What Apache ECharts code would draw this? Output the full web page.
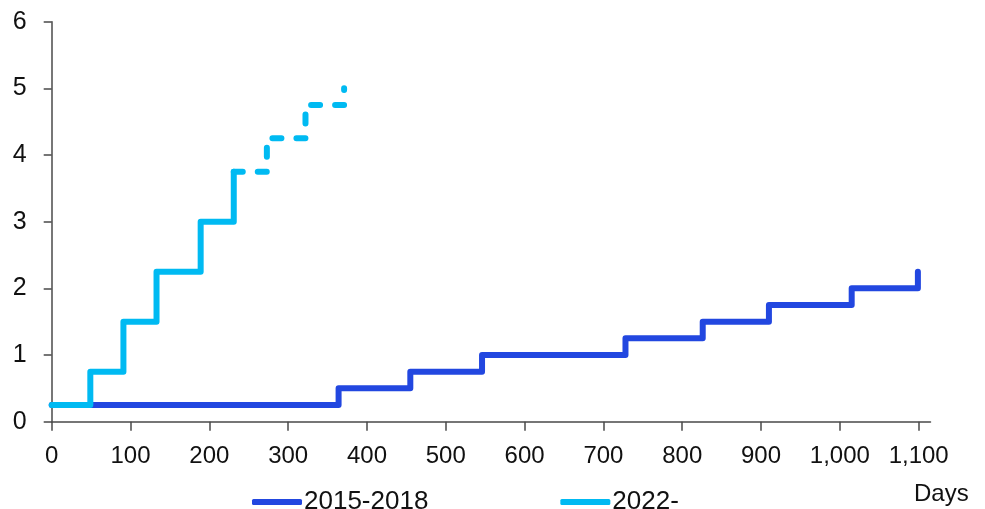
<!DOCTYPE html>
<html>
<head>
<meta charset="utf-8">
<script src="https://cdn.jsdelivr.net/npm/echarts@6/dist/echarts.min.js"></script>
<style>
  html, body { margin: 0; padding: 0; background: #ffffff; }
  #chart { width: 985px; height: 509px; }
</style>
</head>
<body>
<div id="chart"></div>
<script>
// ---- data ----
const seriesNames = ['2015-2018', '2022-'];
const days2015 = [0, 364, 455, 546, 728, 826, 910, 1015, 1099];
const rates2015 = [0.25, 0.5, 0.75, 1.0, 1.25, 1.5, 1.75, 2.0, 2.25];
const days2022 = [0, 49, 91, 133, 189, 231];
const rates2022 = [0.25, 0.75, 1.5, 2.25, 3.0, 3.75];
const days2022Exp = [231, 273, 322, 371];
const rates2022Exp = [3.75, 4.25, 4.75, 5.0];
const xTicks = [0, 100, 200, 300, 400, 500, 600, 700, 800, 900, 1000, 1100];
const yTicks = [0, 1, 2, 3, 4, 5, 6];
const xAxisName = 'Days';

const zip = (xs, ys) => xs.map((x, i) => [x, ys[i]]);
const FONT = 'Liberation Sans, Arial, sans-serif';
const DARK = '#2247E0';
const LIGHT = '#00BAF2';
const AXIS = '#4a4a4a';
const TEXT = '#111111';

const chart = echarts.init(document.getElementById('chart'), null, { renderer: 'canvas' });
chart.setOption({
  animation: false,
  backgroundColor: '#ffffff',
  textStyle: { fontFamily: FONT },
  grid: { left: 51.7, top: 21.7, right: 54.5, bottom: 87.3, containLabel: false },
  xAxis: {
    type: 'value',
    min: 0, max: 1115, interval: 100,
    axisLine: { show: true, lineStyle: { color: AXIS, width: 1.5 } },
    axisTick: { show: true, length: 9, customValues: xTicks, lineStyle: { color: AXIS, width: 1.5 } },
    axisLabel: {
      customValues: xTicks,
      margin: 23, fontSize: 24, color: TEXT, fontFamily: FONT,
      formatter: v => Number(v).toLocaleString('en-US')
    },
    splitLine: { show: false }
  },
  yAxis: {
    type: 'value',
    min: 0, max: 6, interval: 1,
    axisLine: { show: true, lineStyle: { color: AXIS, width: 1.5 } },
    axisTick: { show: true, length: 8, customValues: yTicks, lineStyle: { color: AXIS, width: 1.5 } },
    axisLabel: { customValues: yTicks, margin: 25, fontSize: 25, color: TEXT, fontFamily: FONT },
    splitLine: { show: false }
  },
  legend: {
    data: seriesNames,
    left: 247, top: 484,
    icon: 'roundRect',
    itemWidth: 50, itemHeight: 6,
    itemGap: 132,
    textStyle: { fontSize: 26, color: TEXT, fontFamily: FONT, padding: [0, 0, 0, -3] },
    selectedMode: false
  },
  graphic: [{
    type: 'text',
    left: 914, top: 482,
    style: { text: xAxisName, fontSize: 24, fill: TEXT, fontFamily: FONT }
  }],
  series: [
    {
      name: seriesNames[0], type: 'line', step: 'end',
      data: zip(days2015, rates2015),
      showSymbol: false, symbol: 'none',
      itemStyle: { color: DARK },
      lineStyle: { color: DARK, width: 6, cap: 'round', join: 'round' },
      z: 2
    },
    {
      name: seriesNames[1], type: 'line', step: 'end',
      data: zip(days2022, rates2022),
      showSymbol: false, symbol: 'none',
      itemStyle: { color: LIGHT },
      lineStyle: { color: LIGHT, width: 6, cap: 'round', join: 'round' },
      z: 3
    },
    {
      name: seriesNames[1] + ' expected', type: 'line', step: 'end',
      data: zip(days2022Exp, rates2022Exp),
      showSymbol: false, symbol: 'none',
      itemStyle: { color: LIGHT },
      lineStyle: { color: LIGHT, width: 6, type: [9, 15], dashOffset: 0, cap: 'round', join: 'round' },
      z: 3
    }
  ]
});
</script>
</body>
</html>
